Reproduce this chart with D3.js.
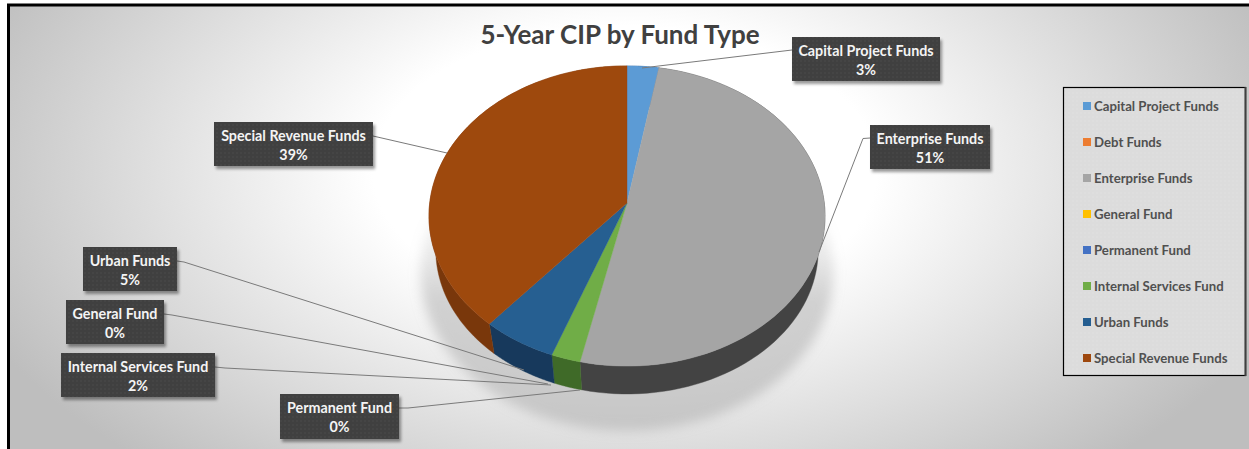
<!DOCTYPE html>
<html><head><meta charset="utf-8">
<script src="https://cdn.jsdelivr.net/npm/d3@7/dist/d3.min.js"></script>
<style>html,body{margin:0;padding:0;background:#fff;overflow:hidden}svg{display:block}text{font-family:Lato,"Open Sans",sans-serif;font-weight:700}</style>
</head><body><svg id="c" width="1249" height="449"></svg>
<script>
const categories = ["Capital Project Funds","Debt Funds","Enterprise Funds","General Fund","Permanent Fund","Internal Services Fund","Urban Funds","Special Revenue Funds"];
const values = [2.8,0,50.7,0,0,2.2,5.6,38.7];
const percentLabels = ["3%","0%","51%","0%","0%","2%","5%","39%"];
const topColors = ["#5b9bd5","#ed7d31","#a5a5a5","#ffc000","#4472c4","#70ad47","#255e91","#9e480e"];
const sideColors = ["#376092","#a04f1a","#434343","#a87f00","#2a4a85","#3f6a28","#17395c","#79370b"];

// callout layout (kept apart from the data)
const callouts = [
 {name:"Capital Project Funds",box:[792,37,148,44],leader:[[792,50],[642,68]]},
 {name:"Enterprise Funds",box:[870,125,120,44],leader:[[870,138],[863,138.5],[819,252]]},
 {name:"Special Revenue Funds",box:[214,122,159,44],leader:[[373,136],[447,153]]},
 {name:"Urban Funds",box:[83,247,94,44],leader:[[177,261],[184,262],[524,370]]},
 {name:"General Fund",box:[66,300,98,44],leader:[[164,314],[172,315],[548,384]]},
 {name:"Internal Services Fund",box:[61,353,154,44],leader:[[215,367],[225,368],[551,385]]},
 {name:"Permanent Fund",box:[280,394,119,45],leader:[[399,408],[408,408],[580,390]]}
];

const svg = d3.select("#c");
const defs = svg.append("defs");
const bg = defs.append("radialGradient").attr("id","bg").attr("gradientUnits","userSpaceOnUse")
  .attr("cx",0).attr("cy",0).attr("r",1)
  .attr("gradientTransform","translate(625,170) scale(700,400)");
[[0,"#ffffff"],[0.36,"#ffffff"],[1,"#bebebe"]].forEach(s=>bg.append("stop").attr("offset",s[0]).attr("stop-color",s[1]));
const dots = defs.append("pattern").attr("id","dots").attr("width",4).attr("height",4).attr("patternUnits","userSpaceOnUse");
dots.append("rect").attr("width",4).attr("height",4).attr("fill","#3f3f3f");
dots.append("circle").attr("cx",1).attr("cy",1).attr("r",.8).attr("fill","#4a4a4a");
const ldots = defs.append("pattern").attr("id","ldots").attr("width",4).attr("height",4).attr("patternUnits","userSpaceOnUse");
ldots.append("rect").attr("width",4).attr("height",4).attr("fill","#dcdcdc");
ldots.append("circle").attr("cx",1).attr("cy",1).attr("r",.8).attr("fill","#e2e2e2");
const sh = defs.append("filter").attr("id","bs").attr("x","-20%").attr("y","-20%").attr("width","140%").attr("height","150%");
sh.append("feDropShadow").attr("dx",2).attr("dy",3).attr("stdDeviation",1.5).attr("flood-color","#000").attr("flood-opacity",.4);
defs.append("filter").attr("id","blur").attr("x","-20%").attr("y","-20%").attr("width","140%").attr("height","140%")
  .append("feGaussianBlur").attr("stdDeviation",6);
defs.append("filter").attr("id","soft").append("feGaussianBlur").attr("stdDeviation",.5);
const fade = defs.append("linearGradient").attr("id","fade").attr("gradientUnits","userSpaceOnUse")
  .attr("x1",0).attr("x2",0).attr("y1",205).attr("y2",300);
fade.append("stop").attr("offset",0).attr("stop-color","#aaa").attr("stop-opacity",0);
fade.append("stop").attr("offset",1).attr("stop-color","#aaa").attr("stop-opacity",.5);

// background and frame
svg.append("rect").attr("x",8).attr("y",5).attr("width",1241).attr("height",444).attr("fill","url(#bg)");
svg.append("path").attr("d","M8.5,449V5H1249").attr("fill","none").attr("stroke","#000").attr("stroke-width",3);

svg.append("text").attr("x",620).attr("y",44).attr("text-anchor","middle").attr("font-size",26).attr("fill","#404040").text("5-Year CIP by Fund Type");

// perspective-projected pie
const k = 0.0867;
function disc(cy,a,b){
  return t=>{const u=Math.sin(t),v=-Math.cos(t),w=1-k*v;return [627+a*u/w, cy+b*v/w];};
}
const topDisc = disc(203,197.3,149), baseDisc = disc(237.4,190.5,143);
const arcs = d3.pie().sort(null).value(d=>d.v)(categories.map((c,i)=>({c,v:values[i],i})));
const colorTop = d3.scaleOrdinal(categories,topColors), colorSide = d3.scaleOrdinal(categories,sideColors);
const line = d3.line();
const rim = (f,a,b)=>d3.range(0,1.0001,1/80).map(p=>f(a+(b-a)*p));

// soft shadow
const whole = rim(disc(258,206,158),0,2*Math.PI);
svg.append("path").attr("d",line(whole)+"Z").attr("fill","url(#fade)").attr("filter","url(#blur)");

const live = arcs.filter(d=>d.value>0);
svg.append("g").selectAll("path").data(live).join("path")
  .attr("d",d=>line(rim(baseDisc,d.startAngle,d.endAngle).concat(rim(topDisc,d.endAngle,d.startAngle)))+"Z")
  .attr("fill",d=>colorSide(d.data.c)).attr("stroke",d=>colorSide(d.data.c)).attr("stroke-width",.4);
svg.append("g").attr("filter","url(#soft)").selectAll("path").data(live).join("path")
  .attr("d",d=>line([[627,203]].concat(rim(topDisc,d.startAngle,d.endAngle)))+"Z")
  .attr("fill",d=>colorTop(d.data.c)).attr("stroke",d=>colorTop(d.data.c)).attr("stroke-width",.4);

// leaders and callouts
svg.append("g").selectAll("path").data(callouts).join("path")
  .attr("d",d=>line(d.leader)).attr("fill","none").attr("stroke","#7a7a7a").attr("stroke-width",1);
const g = svg.append("g").selectAll("g").data(callouts).join("g");
g.append("rect").attr("x",d=>d.box[0]).attr("y",d=>d.box[1]).attr("width",d=>d.box[2]).attr("height",d=>d.box[3])
  .attr("fill","url(#dots)").attr("filter","url(#bs)");
g.append("text").attr("x",d=>d.box[0]+d.box[2]/2).attr("y",d=>d.box[1]+19).attr("text-anchor","middle")
  .attr("font-size",14.3).attr("fill","#f4f4f4").text(d=>d.name);
g.append("text").attr("x",d=>d.box[0]+d.box[2]/2).attr("y",d=>d.box[1]+38).attr("text-anchor","middle")
  .attr("font-size",14.3).attr("fill","#f4f4f4").text(d=>percentLabels[categories.indexOf(d.name)]);

// legend
svg.append("rect").attr("x",1063.5).attr("y",87.5).attr("width",182).attr("height",288).attr("fill","url(#ldots)").attr("stroke","#000").attr("stroke-width",1.2);
svg.append("line").attr("x1",1245.5).attr("x2",1245.5).attr("y1",87).attr("y2",376).attr("stroke","#404040").attr("stroke-width",2);
const yRow = d3.scalePoint().domain(categories).range([106,358]);
const lg = svg.append("g").selectAll("g").data(categories).join("g");
lg.append("rect").attr("x",1083).attr("y",c=>yRow(c)-4).attr("width",8).attr("height",8).attr("fill",c=>colorTop(c));
lg.append("text").attr("x",1094).attr("y",c=>yRow(c)+4.5).attr("font-size",13.2).attr("fill","#505050").text(c=>c);
</script></body></html>
